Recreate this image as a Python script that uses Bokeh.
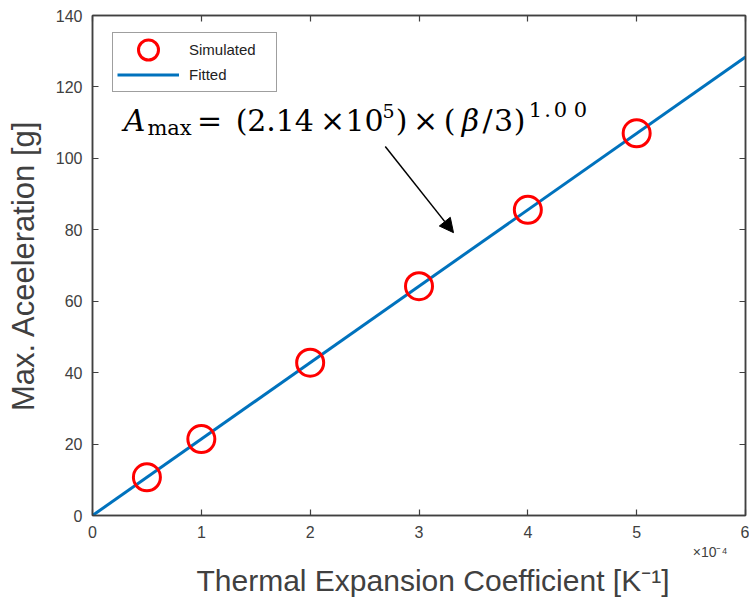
from bokeh.plotting import figure
from bokeh.models import (Range1d, FixedTicker, LinearAxis, Legend, LegendItem,
                          Label, Arrow, NormalHead, Title)
from bokeh.embed import file_html
from bokeh.resources import INLINE

# ---- data ----
beta_sim = [0.5, 1, 2, 3, 4, 5]            # x 1e-4 K^-1
acc_sim = [10.7, 21.4, 42.8, 64.2, 85.6, 107.0]
beta_fit = [0, 6]
acc_fit = [0, 128.4]
x_ticks = [0, 1, 2, 3, 4, 5, 6]
y_ticks = [0, 20, 40, 60, 80, 100, 120, 140]

AX = "#404040"
FONT = "Liberation Sans"

p = figure(width=749, height=599, output_backend="svg", toolbar_location=None,
           x_range=Range1d(0, 6), y_range=Range1d(0, 140),
           min_border_left=92, min_border_right=4, min_border_top=15, min_border_bottom=84,
           background_fill_color="white", border_fill_color="white")
p.xgrid.visible = False
p.ygrid.visible = False
p.outline_line_color = AX
p.outline_line_width = 1.5

def style_axis(ax, labels=True):
    ax.axis_line_color = AX
    ax.axis_line_width = 1.5
    ax.major_tick_line_color = AX
    ax.major_tick_line_width = 1.2
    ax.major_tick_in = 6
    ax.major_tick_out = 0
    ax.minor_tick_line_color = None
    ax.major_label_text_font = FONT
    if labels:
        ax.major_label_text_color = AX
        ax.major_label_text_font_size = "16px"
    else:
        ax.major_label_text_color = None
        ax.major_label_text_font_size = "1px"
        ax.major_label_standoff = 0

xax = p.xaxis[0]
yax = p.yaxis[0]
xax.ticker = FixedTicker(ticks=x_ticks)
yax.ticker = FixedTicker(ticks=y_ticks)
style_axis(xax)
style_axis(yax)
xax.major_label_standoff = 10
yax.major_label_standoff = 10
yax.axis_label = "Max. Aceeleration [g]"
yax.axis_label_text_font = FONT
yax.axis_label_text_font_style = "normal"
yax.axis_label_text_color = AX
yax.axis_label_text_font_size = "31px"
yax.axis_label_standoff = 12

top = LinearAxis(ticker=FixedTicker(ticks=x_ticks))
right = LinearAxis(ticker=FixedTicker(ticks=y_ticks))
style_axis(top, labels=False)
style_axis(right, labels=False)
p.add_layout(top, "above")
p.add_layout(right, "right")

# x-axis exponent and x-axis title, stacked below the tick labels
p.add_layout(Title(text="×10⁻⁴", align="right", offset=18, standoff=3,
                   text_font=FONT, text_font_size="14px", text_font_style="normal",
                   text_color=AX), "below")
p.add_layout(Title(text="Thermal Expansion Coefficient [K⁻¹]", align="left",
                   offset=104, standoff=0, text_font=FONT, text_font_size="30px",
                   text_font_style="normal", text_color=AX), "below")

fit = p.line(beta_fit, acc_fit, line_color="#0072BD", line_width=3)
sim = p.ellipse(beta_sim, acc_sim, width=27, height=27, width_units="screen",
                height_units="screen", fill_color=None,
                line_color="#FF0000", line_width=3)

legend = Legend(items=[LegendItem(label="Simulated", renderers=[sim]),
                       LegendItem(label="Fitted", renderers=[fit])],
                location=(20, 423), margin=0, padding=4, spacing=0,
                glyph_width=62, glyph_height=25, label_standoff=10,
                label_text_font=FONT, label_text_font_size="15px",
                label_text_color="#222222", label_width=83,
                border_line_color=AX, border_line_width=1.2,
                background_fill_color="white", background_fill_alpha=1)
p.add_layout(legend, "center")

# ---- equation annotation (pieces centred at pixel offsets from anchor) ----
ax0 = 0.322   # anchor in data units (x pixel 127)
ay0 = 110.7
left0 = 127
pieces = [
    ("A", 134, 0, 30, "italic"),
    ("max", 169, -8, 21, "normal"),
    ("=", 209, 0, 30, "normal"),
    ("(", 241, 0, 30, "normal"),
    ("2.14", 280, 0, 30, "normal"),
    ("×", 332, 0, 30, "normal"),
    ("10", 364, 0, 30, "normal"),
    ("5", 388, 9, 19, "normal"),
    (")", 401, 0, 30, "normal"),
    ("×", 425, 0, 30, "normal"),
    ("(", 449, 0, 30, "normal"),
    ("β", 470, 0, 30, "italic"),
    ("/", 487, 0, 30, "normal"),
    ("3", 503, 0, 30, "normal"),
    (")", 519, 0, 30, "normal"),
    ("1", 535, 11, 21, "normal"),
    (".", 547, 11, 21, "normal"),
    ("0", 560, 11, 21, "normal"),
    ("0", 580, 11, 21, "normal"),
]
for txt, px, dy, fs, st in pieces:
    p.add_layout(Label(x=ax0, y=ay0, x_offset=px - left0, y_offset=dy, text=txt,
                       text_font="DejaVu Serif", text_font_size=f"{fs}px",
                       text_font_style=st, text_align="center", text_baseline="alphabetic",
                       text_color="black"))

p.add_layout(Arrow(x_start=2.69, y_start=103.3, x_end=3.317, y_end=79.2,
                   line_color="black", line_width=1.5,
                   end=NormalHead(size=14, fill_color="black", line_color="black")))

open("out.html", "w").write(file_html(p, INLINE))
